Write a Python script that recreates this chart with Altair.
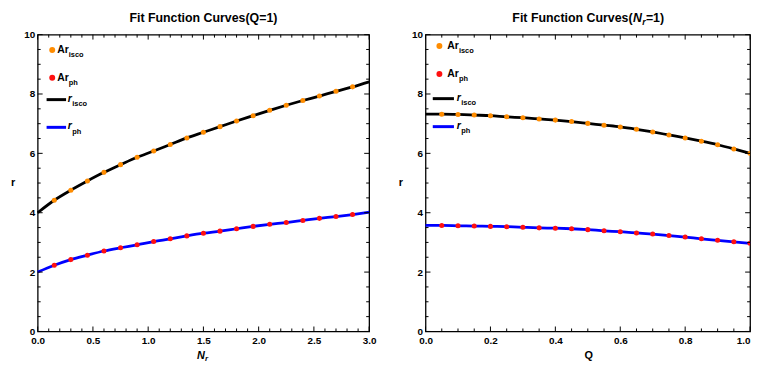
import altair as alt
import pandas as pd

# ---------------- data ----------------
# Left panel: Q = 1, x = N_r
nr_vals = [0.0, 0.15, 0.3, 0.45, 0.6, 0.75, 0.9, 1.05, 1.2, 1.35, 1.5,
           1.65, 1.8, 1.95, 2.1, 2.25, 2.4, 2.55, 2.7, 2.85, 3.0]
risco_nr = [4.00, 4.42, 4.76, 5.07, 5.36, 5.62, 5.87, 6.08, 6.30, 6.52, 6.71,
            6.90, 7.09, 7.27, 7.45, 7.62, 7.78, 7.93, 8.09, 8.24, 8.41]
rph_nr = [2.00, 2.23, 2.42, 2.57, 2.71, 2.82, 2.92, 3.03, 3.12, 3.22, 3.31,
          3.38, 3.46, 3.54, 3.61, 3.67, 3.74, 3.81, 3.87, 3.94, 4.02]
nr_points = nr_vals[1:20]

# Right panel: N_r = 1, x = Q
q_vals = [0.0, 0.05, 0.1, 0.15, 0.2, 0.25, 0.3, 0.35, 0.4, 0.45, 0.5,
          0.55, 0.6, 0.65, 0.7, 0.75, 0.8, 0.85, 0.9, 0.95, 1.0]
risco_q = [7.32, 7.32, 7.31, 7.29, 7.27, 7.23, 7.20, 7.16, 7.12, 7.07, 7.01,
           6.95, 6.89, 6.81, 6.72, 6.62, 6.52, 6.41, 6.29, 6.15, 6.00]
rph_q = [3.57, 3.57, 3.56, 3.55, 3.54, 3.53, 3.51, 3.49, 3.48, 3.46, 3.43,
         3.39, 3.36, 3.32, 3.28, 3.23, 3.18, 3.12, 3.07, 3.02, 2.97]
q_points = q_vals[1:21]

# tick values
nr_major = [0.0, 0.5, 1.0, 1.5, 2.0, 2.5, 3.0]
nr_minor = [i / 10 for i in range(31) if i % 5 != 0]
q_major = [0.0, 0.2, 0.4, 0.6, 0.8, 1.0]
q_minor = [i / 20 for i in range(21) if i % 4 != 0]
r_major = [0, 2, 4, 6, 8, 10]
r_minor = [i / 2 for i in range(21) if i % 4 != 0]

FONT = "Liberation Sans"
ORANGE = "#FF8C00"
RED = "#FF1010"
BLUE = "#0000FF"
W_L, W_R, H = 335, 328, 300
MAJ, MIN = 5, 3


def ticks(xmajor, xminor, W, xscale):
    yscale = alt.Scale(domain=[0, 10], nice=False)
    layers = []
    for vals, ln in ((xmajor, MAJ), (xminor, MIN)):
        d = pd.DataFrame({"t": vals})
        base = alt.Chart(d).mark_rule(color="black", strokeWidth=1)
        layers.append(base.encode(x=alt.X("t:Q", scale=xscale), y=alt.value(H), y2=alt.value(H - ln)))
        layers.append(base.encode(x=alt.X("t:Q", scale=xscale), y=alt.value(0), y2=alt.value(ln)))
    for vals, ln in ((r_major, MAJ), (r_minor, MIN)):
        d = pd.DataFrame({"t": vals})
        base = alt.Chart(d).mark_rule(color="black", strokeWidth=1)
        layers.append(base.encode(y=alt.Y("t:Q", scale=yscale), x=alt.value(0), x2=alt.value(ln)))
        layers.append(base.encode(y=alt.Y("t:Q", scale=yscale), x=alt.value(W), x2=alt.value(W - ln)))
    return layers


def txt(s, x, y, size=11, style="normal", align="left", weight="bold"):
    return alt.Chart(pd.DataFrame({"a": [0]})).mark_text(
        text=s, font=FONT, fontSize=size, fontWeight=weight, fontStyle=style,
        align=align, baseline="middle", color="black"
    ).encode(x=alt.value(x), y=alt.value(y))


def legend(rows, dot_x, text_x, line_x0, line_x1, r_x):
    one = pd.DataFrame({"a": [0]})
    y1, y2, y3, y4 = rows
    sub_ar = text_x + 11.7
    sub_r = r_x + 4.6
    out = []
    out.append(alt.Chart(one).mark_point(filled=True, opacity=1, size=36, color=ORANGE)
               .encode(x=alt.value(dot_x), y=alt.value(y1)))
    out.append(txt("Ar", text_x, y1, 10.5))
    out.append(txt("isco", sub_ar, y1 + 5, 7.5))
    out.append(alt.Chart(one).mark_point(filled=True, opacity=1, size=36, color=RED)
               .encode(x=alt.value(dot_x), y=alt.value(y2)))
    out.append(txt("Ar", text_x, y2, 10.5))
    out.append(txt("ph", sub_ar, y2 + 5, 7.5))
    out.append(alt.Chart(one).mark_rule(color="black", strokeWidth=3)
               .encode(x=alt.value(line_x0), x2=alt.value(line_x1), y=alt.value(y3)))
    out.append(txt("r", r_x, y3 - 1, 10.5, "italic"))
    out.append(txt("isco", sub_r, y3 + 4.5, 7.5))
    out.append(alt.Chart(one).mark_rule(color=BLUE, strokeWidth=3)
               .encode(x=alt.value(line_x0), x2=alt.value(line_x1), y=alt.value(y4)))
    out.append(txt("r", r_x, y4 - 1, 10.5, "italic"))
    out.append(txt("ph", sub_r, y4 + 4.5, 7.5))
    return out


def panel(xs, risco, rph, xpts, npts, xmajor, xminor, W, title_layers, xtitle_layers, leg):
    xscale = alt.Scale(domain=[xmajor[0], xmajor[-1]], nice=False)
    yscale = alt.Scale(domain=[0, 10], nice=False)
    lines = pd.DataFrame({"x": xs * 2, "r": risco + rph,
                          "s": ["isco"] * len(xs) + ["ph"] * len(xs)})
    pts = pd.DataFrame({"x": xpts * 2, "r": risco[1:1 + npts] + rph[1:1 + npts],
                        "s": ["isco"] * npts + ["ph"] * npts})
    last = xmajor[-1]
    xaxis = alt.Axis(values=xmajor, format=".1f", ticks=False, domain=False, grid=False,
                     labelFlush=False, labelPadding=4, title=None,
                     labelAlign={"condition": {"test": f"datum.value >= {last} && {1 if last == 1.0 else 0}",
                                               "value": "right"}, "value": "center"})
    yaxis = alt.Axis(values=r_major, format="d", ticks=False, domain=False, grid=False,
                     labelPadding=3, title=None)
    line = alt.Chart(lines).mark_line(strokeWidth=2.8, interpolate="monotone").encode(
        x=alt.X("x:Q", scale=xscale, axis=xaxis),
        y=alt.Y("r:Q", scale=yscale, axis=yaxis),
        color=alt.Color("s:N", scale=alt.Scale(domain=["isco", "ph"], range=["black", BLUE]), legend=None),
        detail="s:N",
    )
    dots = alt.Chart(pts).mark_point(filled=True, opacity=1, size=26, clip=True).encode(
        x=alt.X("x:Q", scale=xscale),
        y=alt.Y("r:Q", scale=yscale),
        fill=alt.Fill("s:N", scale=alt.Scale(domain=["isco", "ph"], range=[ORANGE, RED]), legend=None),
    )
    layers = [line, dots] + ticks(xmajor, xminor, W, xscale) + legend(*leg)
    layers += title_layers + xtitle_layers + [txt("r", -27, H / 2, 11)]
    return alt.layer(*layers).properties(width=W, height=H).resolve_scale(color="independent", fill="independent")


left_title = [txt("Fit Function Curves(Q=1)", W_L / 2, -16.5, 12.5, align="center")]
left_xt = [txt("N", 161, H + 25, 11, "italic"), txt("r", 169, H + 28, 8, "italic")]
r0 = W_R / 2 - 76.5
right_title = [txt("Fit Function Curves(", r0 + 121.7, -16.5, 12.5, align="right"),
               txt("N", r0 + 122.2, -16.5, 12.5, "italic"), txt("r", r0 + 131.4, -13, 9, "italic"),
               txt("=1)", r0 + 135.2, -16.5, 12.5)]
right_xt = [txt("Q", W_R / 2 + 1, H + 25, 11, align="center")]

left_leg = ([15.5, 43.5, 65.7, 93.7], 14.7, 19.7, 9, 28.7, 30.3)
right_leg = ([11.5, 39.7, 64.7, 93.0], 14.0, 22.0, 7.3, 28.7, 31.5)

left = panel(nr_vals, risco_nr, rph_nr, nr_points, 19, nr_major, nr_minor, W_L, left_title, left_xt, left_leg)
right = panel(q_vals, risco_q, rph_q, q_points, 20, q_major, q_minor, W_R, right_title, right_xt, right_leg)

chart = alt.hconcat(left, right, spacing=21).properties(
    padding={"left": 2, "top": 1, "right": 0, "bottom": 0}
).configure_view(stroke="black", strokeWidth=1.3).configure_axis(
    labelFont=FONT, labelFontSize=10, labelFontWeight="bold", labelColor="black"
)

chart.save("out.html", embed_options={"renderer": "svg", "actions": False})
